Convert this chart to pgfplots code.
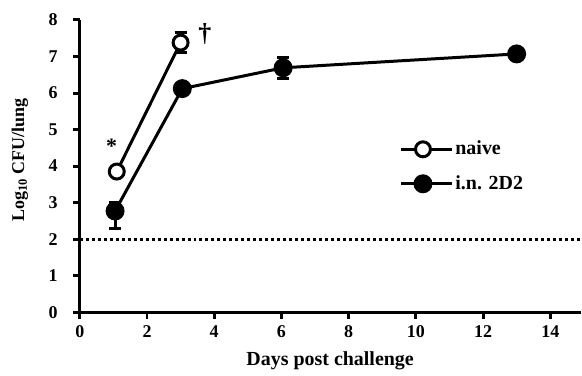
\documentclass[border=0pt]{standalone}
\usepackage{fontspec}
\setmainfont{Liberation Serif}
\usepackage{pgfplots}
\pgfplotsset{compat=1.18}
\begin{document}
\fontsize{18}{21}\selectfont
\begin{tikzpicture}
\begin{axis}[
  scale only axis, width=502pt, height=293pt,
  xmin=0, xmax=14.9, ymin=0, ymax=8,
  axis x line=bottom, axis y line=left,
  axis line style={line width=3pt, -},
  xtick={0,2,...,14}, ytick={0,1,...,8},
  tick align=outside, major tick length=7pt,
  major tick style={line width=3pt, black},
  /pgf/number format/assume math mode=true,
  ticklabel style={font=\fontsize{18}{21}\selectfont\bfseries},
  yticklabel shift=9pt,
  xticklabel shift=0pt,
  xlabel={Days post challenge}, ylabel={Log\textsubscript{10} CFU/lung},
  xlabel style={font=\fontsize{20}{22}\selectfont\bfseries, at={(axis description cs:0.5,-0.1660)}, anchor=center},
  ylabel style={font=\fontsize{18}{21}\selectfont\bfseries, at={(axis description cs:-0.1195,0.52)}, anchor=center},
  clip=false,
  legend style={at={(axis cs:9.42,4.8)}, anchor=north west, draw=none, fill=none,
    font=\fontsize{20}{22}\selectfont\bfseries, row sep=14pt},
  legend cell align=left,
  legend image code/.code={\draw[mark repeat=2,mark phase=2,#1] plot coordinates {(0pt,0pt) (22pt,0pt) (45pt,0pt)};\path (45pt,0pt) -- (51pt,0pt);},
  every axis plot/.append style={line width=3pt},
  error bars/error bar style={line width=3pt},
  error bars/error mark options={rotate=90, mark size=6pt, line width=3pt},
]
\addplot[black, mark=*, mark options={fill=white, line width=3pt}, mark size=7.5pt,
  error bars/.cd, y dir=both, y explicit]
  coordinates {(1.1,3.85) +- (0,0) (3.0,7.38) +- (0,0.28)};
\addlegendentry{naive}
\addplot[black, mark=*, mark options={fill=black, line width=3pt}, mark size=8pt,
  error bars/.cd, y dir=both, y explicit]
  coordinates {(1.05,2.77) += (0,0.24) -= (0,0.48) (3.05,6.12) +- (0,0) (6.05,6.69) +- (0,0.28) (13.0,7.07) +- (0,0)};
\addlegendentry{i.n. 2D2}
\addplot[black, line width=3pt, dash pattern=on 3pt off 3pt, forget plot] coordinates {(0,2) (14.9,2)};
\node[font=\fontsize{22}{24}\selectfont\bfseries] at (axis cs:0.95,4.55) {*};
\node[font=\fontsize{26}{28}\selectfont\bfseries] at (axis cs:3.72,7.62) {\dag};
\path (rel axis cs:0,0) ++(-80pt,-62pt) rectangle ++(582pt,375pt);
\end{axis}
\end{tikzpicture}
\end{document}
